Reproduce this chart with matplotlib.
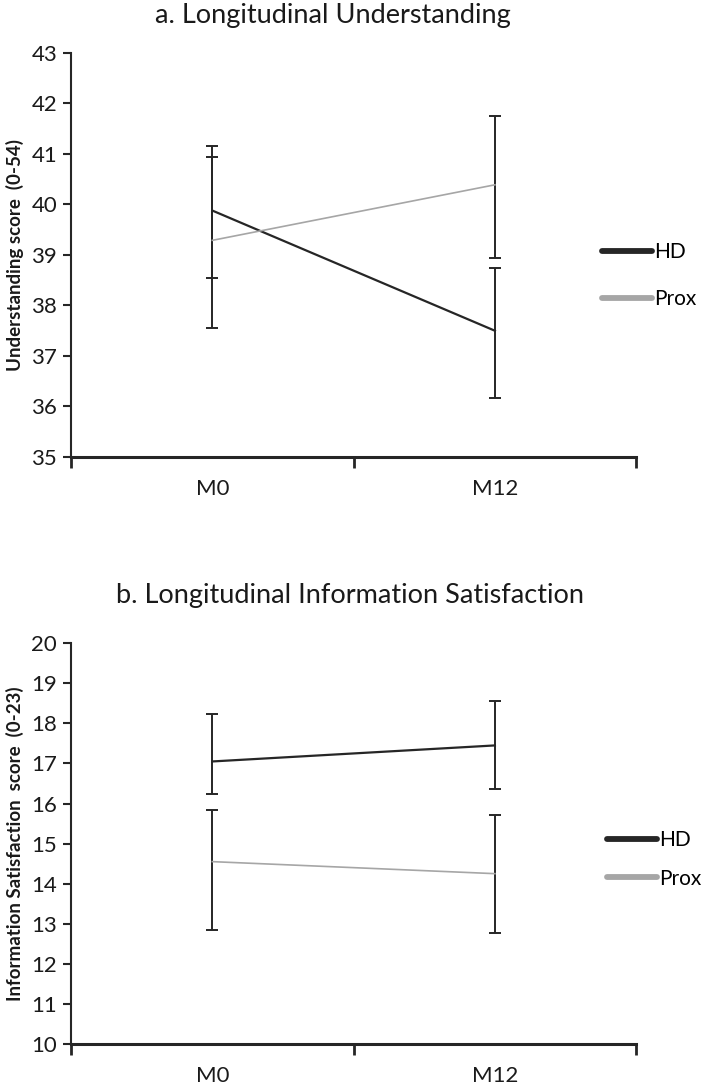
import numpy as np
import matplotlib
matplotlib.use("Agg")
import matplotlib.pyplot as plt

plt.rcParams['font.family'] = ['Lato', 'DejaVu Sans']

# datos
tiempos = ['M0', 'M12']
grupos = ['HD', 'Prox']
colores = {'HD': '#262626', 'Prox': '#a6a6a6'}
anchos = {'HD': 1.6, 'Prox': 1.2}

# a. comprension
und_media = {'HD': [39.88, 37.50], 'Prox': [39.29, 40.39]}
und_sup = {'HD': [41.15, 38.74], 'Prox': [40.95, 41.75]}
und_inf = {'HD': [38.55, 36.16], 'Prox': [37.56, 38.95]}

# b. satisfaccion con la informacion
sat_media = {'HD': [17.05, 17.45], 'Prox': [14.55, 14.25]}
sat_sup = {'HD': [18.23, 18.55], 'Prox': [15.85, 15.72]}
sat_inf = {'HD': [16.23, 16.36], 'Prox': [12.85, 12.77]}

TINTA = '#262626'


def panel(ax, media, sup, inf, ylim, ylabel, leg_x, leg_y, espacio):
    x = np.arange(len(tiempos)) + 0.5
    for g in grupos:
        m = np.array(media[g])
        err = [m - np.array(inf[g]), np.array(sup[g]) - m]
        ax.errorbar(x, m, yerr=err, fmt='none', ecolor=TINTA, elinewidth=1.4,
                    capsize=4, capthick=1.4, zorder=2)
    for g in grupos:
        ax.plot(x, media[g], color=colores[g], lw=anchos[g], zorder=3)

    ax.set_xlim(0, len(tiempos))
    ax.set_ylim(*ylim)
    ax.set_yticks(np.arange(ylim[0], ylim[1] + 1, 1))
    ax.set_xticks(np.arange(0, len(tiempos) + 1))
    ax.set_xticklabels([])
    ax.set_xticks(x, minor=True)
    ax.set_xticklabels(tiempos, minor=True)
    ax.tick_params(axis='x', which='major', direction='out', length=8, width=2, color=TINTA)
    ax.tick_params(axis='x', which='minor', length=0, pad=16, labelsize=16, labelcolor='#1a1a1a')
    ax.tick_params(axis='y', direction='out', length=6, width=1.5, color=TINTA,
                   labelsize=16, labelcolor='#1a1a1a', pad=4)
    for s in ['top', 'right']:
        ax.spines[s].set_visible(False)
    ax.spines['left'].set_linewidth(1.5)
    ax.spines['left'].set_color(TINTA)
    ax.spines['bottom'].set_linewidth(2.2)
    ax.spines['bottom'].set_color(TINTA)

    ax.set_ylabel(ylabel, fontsize=13.5, fontweight='bold', color='#1a1a1a')
    ax.yaxis.set_label_coords(-0.084, 0.5)

    handles = [plt.Line2D([], [], color=colores[g], lw=4.2, solid_capstyle='round') for g in grupos]
    ax.legend(handles, grupos, loc='center left', bbox_to_anchor=(leg_x, leg_y),
              frameon=False, fontsize=15, handlelength=2.4, handletextpad=0.1,
              labelspacing=espacio, borderpad=0, borderaxespad=0)
    return ax


fig = plt.figure(figsize=(7.03, 10.86), dpi=100)
ax1 = fig.add_axes([0.101, 0.5792, 0.804, 0.372])
ax2 = fig.add_axes([0.101, 0.0387, 0.804, 0.369])

panel(ax1, und_media, und_sup, und_inf, (35, 43),
      'Understanding score  (0-54)', 0.94, 0.449, 1.3)
panel(ax2, sat_media, sat_sup, sat_inf, (10, 20),
      'Information Satisfaction  score  (0-23)', 0.949, 0.461, 0.9)

fig.text(0.473, 1 - 16 / 1086, 'a. Longitudinal Understanding', ha='center', va='center',
         fontsize=19.5, color='#1a1a1a')
fig.text(0.498, 1 - 595 / 1086, 'b. Longitudinal Information Satisfaction', ha='center',
         va='center', fontsize=19.5, color='#1a1a1a')

fig.savefig('out.png', dpi=100)
